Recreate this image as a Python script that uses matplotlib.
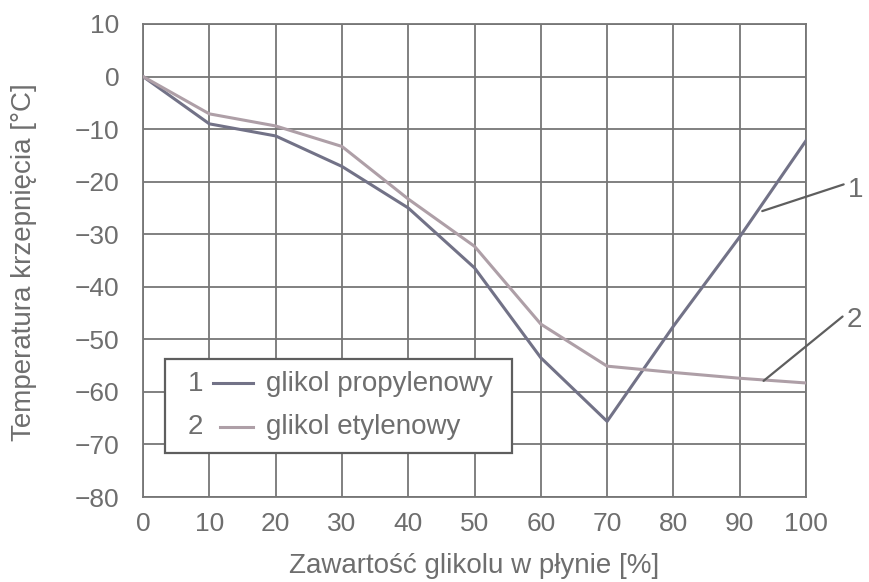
import matplotlib.pyplot as plt
from matplotlib.patches import Rectangle

plt.rcParams['font.family'] = ['Liberation Sans', 'DejaVu Sans']

zawartosc = [0, 10, 20, 30, 40, 50, 60, 70, 80, 90, 100]
propylenowy = [0, -9, -11.3, -17.1, -25, -36.4, -53.5, -65.6, -47.5, -30.5, -12.2]
etylenowy = [0, -7.1, -9.4, -13.3, -23.3, -32.3, -47.1, -55.1, -56.3, -57.4, -58.3]

text_col = '#6e6e6e'
grid_col = '#767676'
col_prop = '#727287'
col_ety = '#ae9fa7'

fig = plt.figure(figsize=(8.69, 5.82), dpi=100)
ax = fig.add_axes([0.1646, 0.146, 0.7629, 0.8128])

ax.plot(zawartosc, propylenowy, color=col_prop, lw=2.2, zorder=3)
ax.plot(zawartosc, etylenowy, color=col_ety, lw=2.2, zorder=3)

ax.set_xlim(0, 100)
ax.set_ylim(-80, 10)
ax.set_xticks(range(0, 101, 10))
ax.set_yticks(range(-80, 11, 10))
ax.grid(True, color=grid_col, lw=1.3)
ax.set_axisbelow(True)
for s in ax.spines.values():
    s.set_color(grid_col)
    s.set_linewidth(1.3)
ax.tick_params(length=0, labelsize=19, labelcolor=text_col)
ax.tick_params(axis='y', pad=17)
ax.tick_params(axis='x', pad=11)

fig.text(474 / 869, 1 - 566 / 582, 'Zawartość glikolu w płynie [%]', fontsize=20,
         color=text_col, ha='center', va='center')
fig.text(24 / 869, 1 - 262 / 582, 'Temperatura krzepnięcia [°C]', fontsize=20,
         color=text_col, ha='center', va='center', rotation=90)

# callouts 1 and 2
ax.annotate('1', xy=(93.4, -25.6), xytext=(106.3, -21.5), fontsize=20, color=text_col,
            va='center', ha='left', annotation_clip=False,
            arrowprops=dict(arrowstyle='-', color='#5e5e5e', lw=1.6, shrinkA=1, shrinkB=0,
                            relpos=(0, 0.75)))
ax.annotate('2', xy=(93.6, -57.9), xytext=(106.1, -46.3), fontsize=20, color=text_col,
            va='center', ha='left', annotation_clip=False,
            arrowprops=dict(arrowstyle='-', color='#5e5e5e', lw=1.6, shrinkA=1, shrinkB=0,
                            relpos=(0, 0.75)))

# legend box
ax.add_patch(Rectangle((3.3, -71.6), 52.4, 17.9, facecolor='white', edgecolor='#5e5e5e',
                       lw=1.6, zorder=4))
ax.text(6.7, -58.5, '1', fontsize=20, color=text_col, va='center', ha='left', zorder=5)
ax.plot([10.6, 16.6], [-58.4, -58.4], color=col_prop, lw=2.2, zorder=5)
ax.text(18.6, -58.5, 'glikol propylenowy', fontsize=20, color=text_col, va='center', zorder=5)
ax.text(6.7, -66.6, '2', fontsize=20, color=text_col, va='center', ha='left', zorder=5)
ax.plot([11.6, 16.6], [-66.6, -66.6], color=col_ety, lw=2.2, zorder=5)
ax.text(18.6, -66.6, 'glikol etylenowy', fontsize=20, color=text_col, va='center', zorder=5)

fig.savefig('out.png', dpi=100)
